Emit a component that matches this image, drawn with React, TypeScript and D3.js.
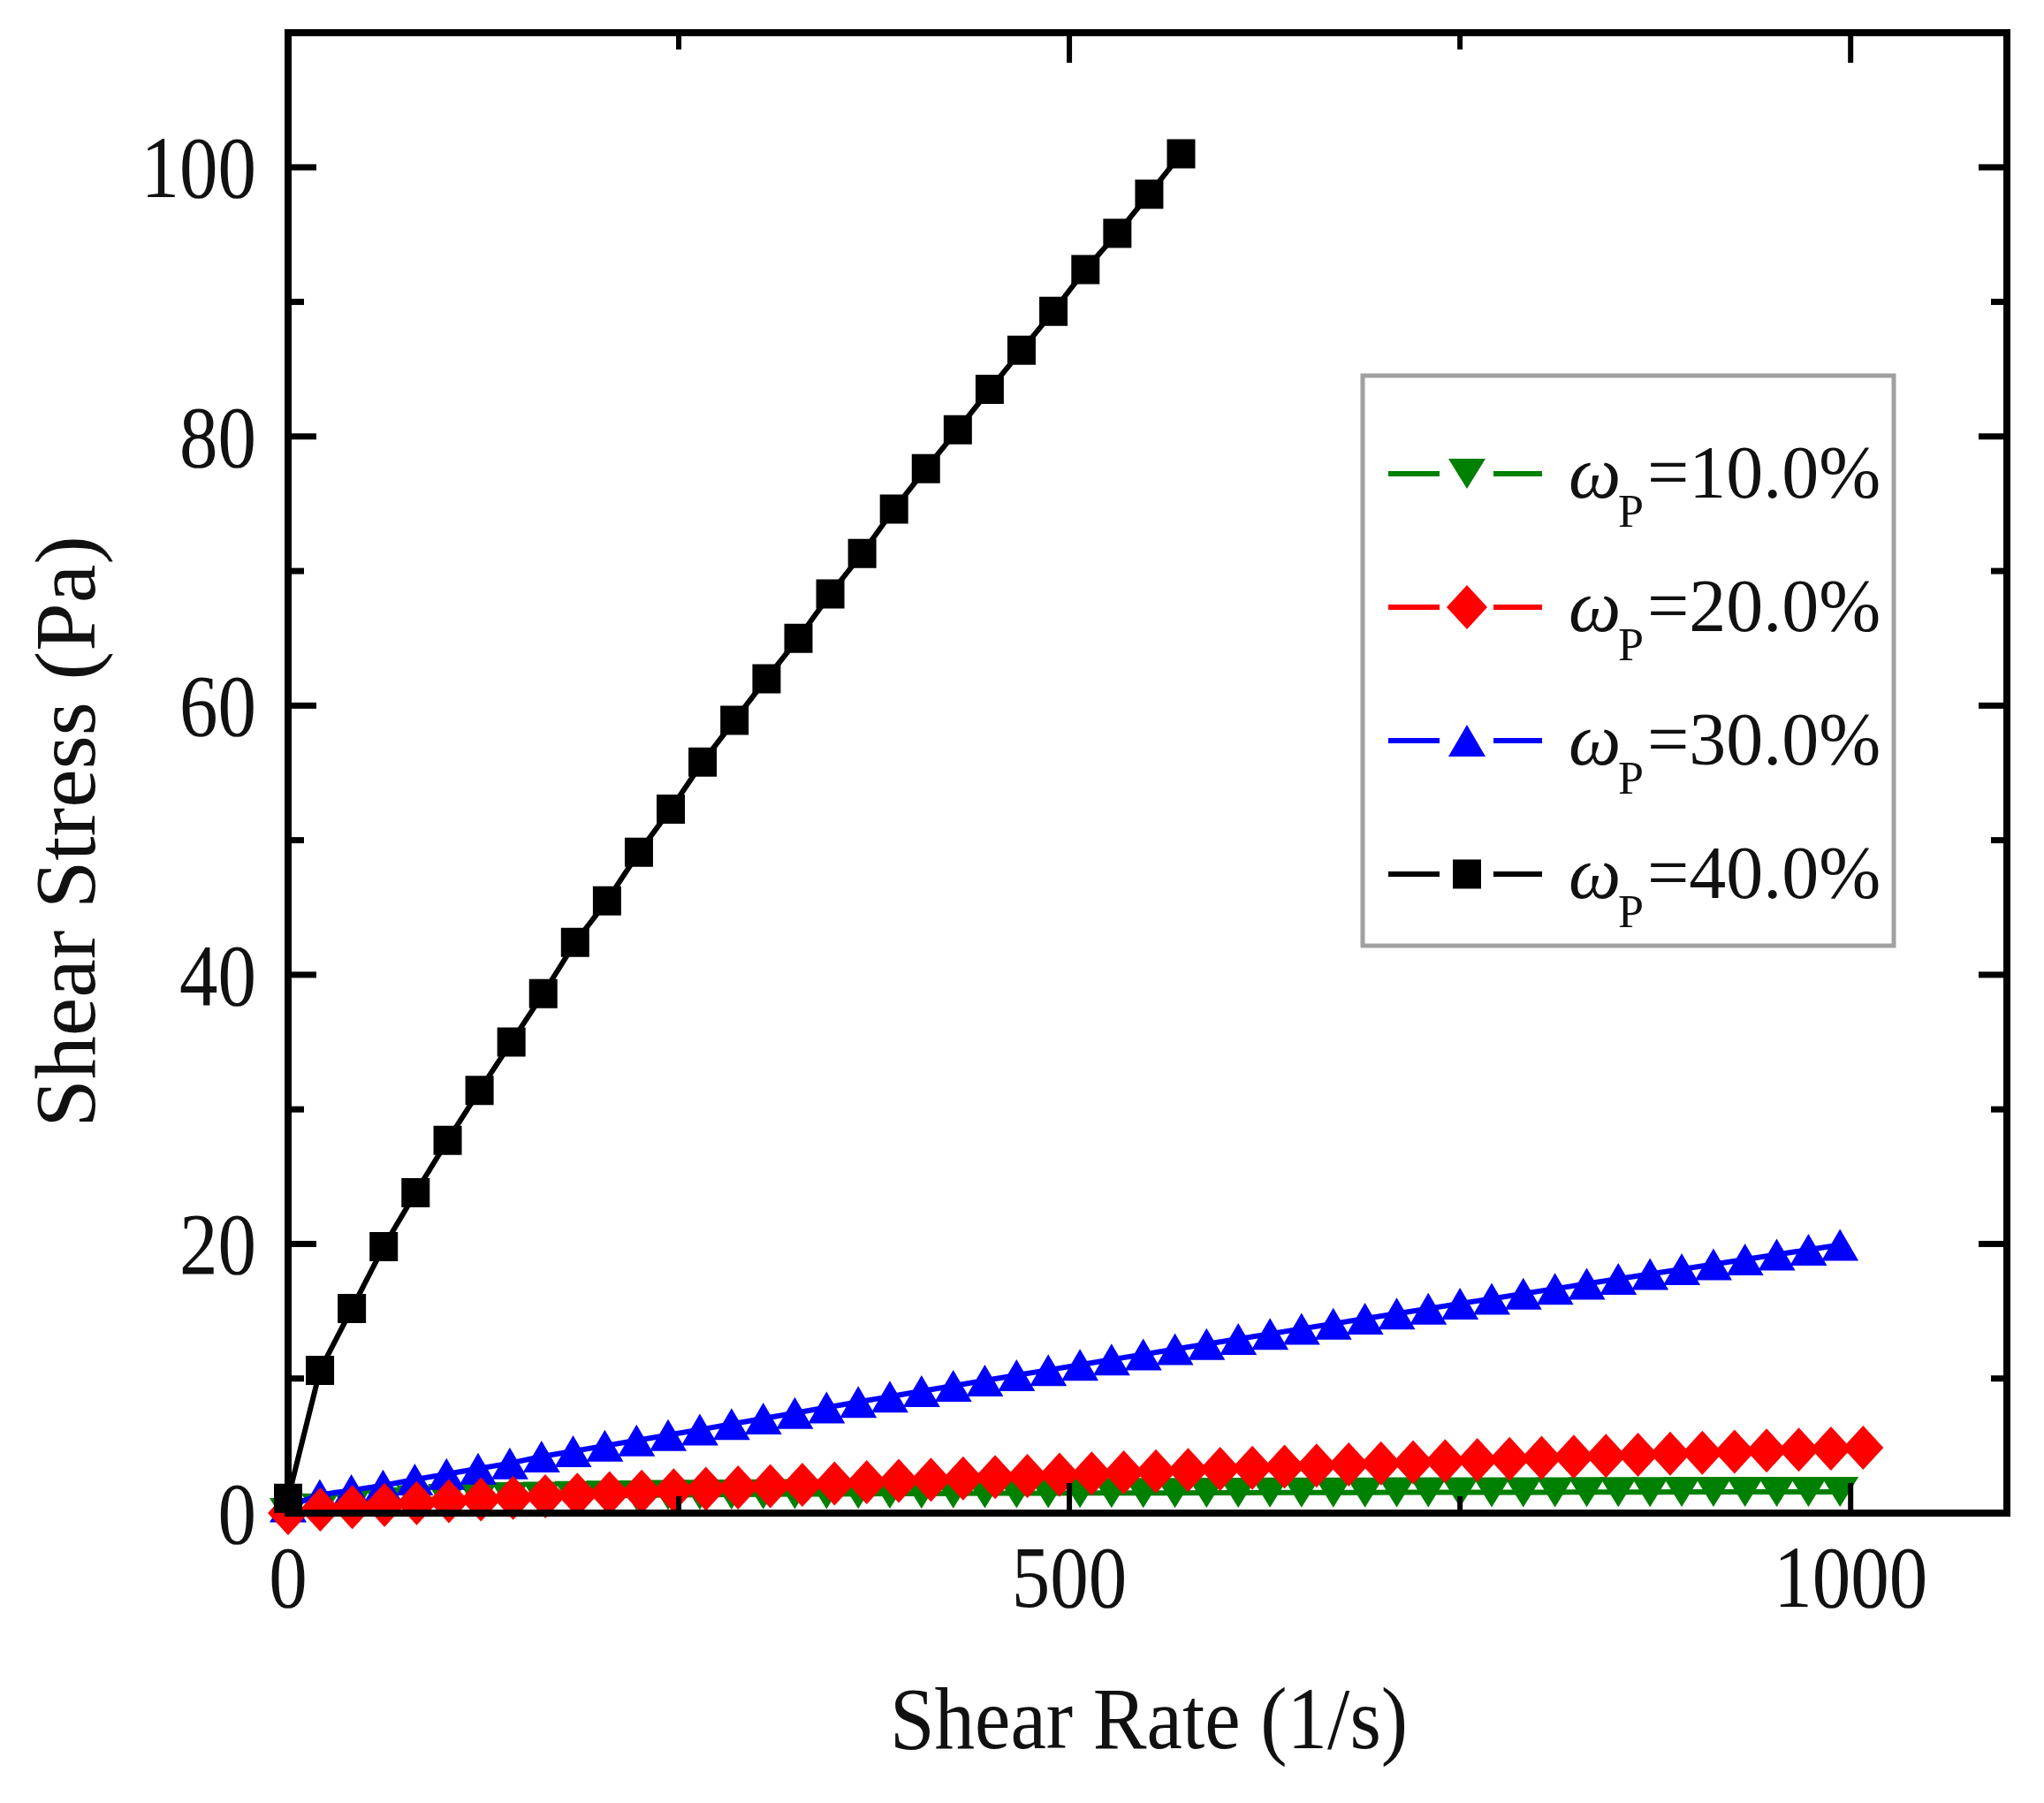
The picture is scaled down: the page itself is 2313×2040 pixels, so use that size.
import React from "react";
import * as d3 from "d3";

// ---------- data ----------
const xBlack = [0, 20.4, 40.8, 61.2, 81.6, 102.1, 122.5, 142.9, 163.3, 183.7, 204.1, 224.5, 244.9, 265.3, 285.7, 306.2, 326.6, 347.0, 367.4, 387.8, 408.2, 428.6, 449.0, 469.4, 489.8, 510.3, 530.7, 551.1, 571.5];
const yBlack = [1.1, 10.6, 15.2, 19.8, 23.8, 27.7, 31.4, 35.0, 38.6, 42.4, 45.5, 49.1, 52.3, 55.8, 58.9, 62.0, 65.0, 68.3, 71.3, 74.6, 77.6, 80.5, 83.5, 86.4, 89.3, 92.4, 95.1, 98.0, 101.0];

const xBlueGreen = [0, 20.3, 40.5, 60.8, 81.1, 101.4, 121.6, 141.9, 162.2, 182.4, 202.7, 223.0, 243.2, 263.5, 283.8, 304.1, 324.3, 344.6, 364.9, 385.1, 405.4, 425.7, 445.9, 466.2, 486.5, 506.8, 527.0, 547.3, 567.6, 587.8, 608.1, 628.4, 648.6, 668.9, 689.2, 709.5, 729.7, 750.0, 770.3, 790.5, 810.8, 831.1, 851.3, 871.6, 891.9, 912.2, 932.4, 952.7, 973.0, 993.2];
const yBlue = [0.5, 1.35, 1.7, 2.05, 2.5, 2.9, 3.3, 3.7, 4.2, 4.6, 5.0, 5.4, 5.8, 6.2, 6.62, 7.03, 7.44, 7.85, 8.26, 8.66, 9.06, 9.46, 9.85, 10.24, 10.63, 11.02, 11.41, 11.79, 12.18, 12.56, 12.94, 13.32, 13.7, 14.07, 14.45, 14.82, 15.19, 15.57, 15.93, 16.3, 16.67, 17.04, 17.4, 17.76, 18.13, 18.49, 18.85, 19.21, 19.57, 19.93];
const yGreen = [0, 0.35, 0.6, 0.8, 0.95, 1.05, 1.12, 1.18, 1.22, 1.26, 1.29, 1.32, 1.34, 1.36, 1.38, 1.4, 1.41, 1.42, 1.43, 1.44, 1.45, 1.46, 1.47, 1.47, 1.48, 1.49, 1.49, 1.5, 1.5, 1.51, 1.51, 1.52, 1.52, 1.53, 1.53, 1.54, 1.54, 1.54, 1.55, 1.55, 1.55, 1.56, 1.56, 1.56, 1.57, 1.57, 1.57, 1.58, 1.58, 1.58];

const xRed = [0, 20.6, 41.1, 61.7, 82.3, 102.9, 123.4, 144.0, 164.6, 185.1, 205.7, 226.3, 246.8, 267.4, 288.0, 308.6, 329.1, 349.7, 370.3, 390.8, 411.4, 432.0, 452.5, 473.1, 493.7, 514.3, 534.8, 555.4, 576.0, 596.5, 617.1, 637.7, 658.2, 678.8, 699.4, 720.0, 740.5, 761.1, 781.7, 802.2, 822.8, 843.4, 863.9, 884.5, 905.1, 925.7, 946.2, 966.8, 987.4, 1008.0];
const yRed = [0, 0.26, 0.44, 0.6, 0.74, 0.88, 1.01, 1.13, 1.25, 1.37, 1.48, 1.59, 1.69, 1.8, 1.9, 2.0, 2.1, 2.2, 2.3, 2.39, 2.48, 2.58, 2.67, 2.76, 2.85, 2.94, 3.02, 3.11, 3.2, 3.28, 3.37, 3.45, 3.53, 3.61, 3.7, 3.78, 3.86, 3.94, 4.02, 4.1, 4.18, 4.26, 4.33, 4.41, 4.49, 4.56, 4.64, 4.71, 4.79, 4.86];

const seriesLabels = ["=10.0%", "=20.0%", "=30.0%", "=40.0%"];
const seriesColors = ["#008000", "#ff0000", "#0000ff", "#000000"];

const xMajorTicks = [0, 500, 1000];
const xMinorTicks = [250, 750];
const yMajorTicks = [0, 20, 40, 60, 80, 100];
const yMinorTicks = [10, 30, 50, 70, 90];
const xTickLabels = ["0", "500", "1000"];
const yTickLabels = ["0", "20", "40", "60", "80", "100"];

// ---------- layout ----------
const W = 2313;
const H = 2040;
const L = 326, R = 2271, T = 37, B = 1712;
const FONT = "'Liberation Serif', 'Times New Roman', serif";

const x = d3.scaleLinear().domain([0, 1100]).range([L, R]);
const y = d3.scaleLinear().domain([0, 110]).range([B, T]);

type Mk = "square" | "up" | "down" | "diamond";

function markerPath(kind: Mk, cx: number, cy: number): string {
  if (kind === "square") {
    const w = 16, h = 16.5;
    return `M${cx - w},${cy - h}H${cx + w}V${cy + h}H${cx - w}Z`;
  }
  if (kind === "up") {
    const w = 21, h = 18;
    return `M${cx},${cy - h}L${cx + w},${cy + h}L${cx - w},${cy + h}Z`;
  }
  if (kind === "down") {
    const w = 21, h = 17;
    return `M${cx - w},${cy - h}L${cx + w},${cy - h}L${cx},${cy + h}Z`;
  }
  const w = 23, h = 25;
  return `M${cx},${cy - h}L${cx + w},${cy}L${cx},${cy + h}L${cx - w},${cy}Z`;
}

const line = d3
  .line<[number, number]>()
  .x((d) => x(d[0]))
  .y((d) => y(d[1]));

function Series({ xs, ys, color, kind }: { xs: number[]; ys: number[]; color: string; kind: Mk }) {
  const pts: [number, number][] = xs.map((v, i) => [v, ys[i]]);
  return (
    <g>
      <path d={line(pts) || ""} fill="none" stroke={color} strokeWidth={6} />
      {pts.map((p, i) => (
        <path key={i} d={markerPath(kind, x(p[0]), y(p[1]))} fill={color} />
      ))}
    </g>
  );
}

export default function App() {
  const legendKinds: Mk[] = ["down", "diamond", "up", "square"];
  const legendY0 = 536;
  const legendDy = 151;
  return (
    <div style={{ position: "absolute", left: 0, top: 0, background: "#fff" }}>
      <svg width={W} height={H} viewBox={`0 0 ${W} ${H}`} style={{ display: "block" }}>
        <rect x={0} y={0} width={W} height={H} fill="#fff" />

        {/* data: green, blue, red, black */}
        <Series xs={xBlueGreen} ys={yGreen} color={seriesColors[0]} kind="down" />
        <Series xs={xBlueGreen} ys={yBlue} color={seriesColors[2]} kind="up" />
        <Series xs={xRed} ys={yRed} color={seriesColors[1]} kind="diamond" />
        <Series xs={xBlack} ys={yBlack} color={seriesColors[3]} kind="square" />

        {/* frame */}
        <rect x={L} y={T} width={R - L} height={B - T} fill="none" stroke="#000" strokeWidth={8} />

        {/* y ticks (left & right, inward) */}
        {yMajorTicks.map((v) => (
          <g key={"ym" + v}>
            <line x1={L} x2={L + 32} y1={y(v)} y2={y(v)} stroke="#000" strokeWidth={7} />
            <line x1={R} x2={R - 32} y1={y(v)} y2={y(v)} stroke="#000" strokeWidth={7} />
          </g>
        ))}
        {yMinorTicks.map((v) => (
          <g key={"yn" + v}>
            <line x1={L} x2={L + 18} y1={y(v)} y2={y(v)} stroke="#000" strokeWidth={7} />
            <line x1={R} x2={R - 18} y1={y(v)} y2={y(v)} stroke="#000" strokeWidth={7} />
          </g>
        ))}
        {/* x ticks (top & bottom, inward) */}
        {xMajorTicks.map((v) => (
          <g key={"xm" + v}>
            <line x1={x(v)} x2={x(v)} y1={T} y2={T + 34} stroke="#000" strokeWidth={6} />
            <line x1={x(v)} x2={x(v)} y1={B} y2={B - 34} stroke="#000" strokeWidth={6} />
          </g>
        ))}
        {xMinorTicks.map((v) => (
          <g key={"xn" + v}>
            <line x1={x(v)} x2={x(v)} y1={T} y2={T + 19} stroke="#000" strokeWidth={6} />
            <line x1={x(v)} x2={x(v)} y1={B} y2={B - 19} stroke="#000" strokeWidth={6} />
          </g>
        ))}

        {/* tick labels */}
        {xMajorTicks.map((v, i) => (
          <text
            key={"xl" + v}
            transform={`translate(${x(v)},1818) scale(0.87,1)`}
            textAnchor="middle"
            fontFamily={FONT}
            fontSize={100}
            fill="#111"
          >
            {xTickLabels[i]}
          </text>
        ))}
        {yMajorTicks.map((v, i) => (
          <text
            key={"yl" + v}
            transform={`translate(290,${y(v) + 34}) scale(0.87,1)`}
            textAnchor="end"
            fontFamily={FONT}
            fontSize={100}
            fill="#111"
          >
            {yTickLabels[i]}
          </text>
        ))}

        {/* axis titles */}
        <text
          transform={`translate(1300,1978) scale(0.91,1)`}
          textAnchor="middle"
          fontFamily={FONT}
          fontSize={100}
          fill="#111"
        >
          Shear Rate (1/s)
        </text>
        <text
          transform={`translate(107,941) rotate(-90)`}
          textAnchor="middle"
          fontFamily={FONT}
          fontSize={98}
          fill="#111"
        >
          Shear Stress (Pa)
        </text>

        {/* legend */}
        <rect x={1542} y={425} width={601} height={645} fill="#fff" stroke="#a0a0a0" strokeWidth={5} />
        {seriesLabels.map((lab, i) => {
          const cy = legendY0 + i * legendDy;
          const c = seriesColors[i];
          return (
            <g key={"lg" + i}>
              <line x1={1571} x2={1629} y1={cy} y2={cy} stroke={c} strokeWidth={6} />
              <line x1={1690} x2={1745} y1={cy} y2={cy} stroke={c} strokeWidth={6} />
              <path d={markerPath(legendKinds[i], 1660, cy)} fill={c} />
              <text x={1775} y={cy + 27} fontFamily={FONT} fontSize={84} fontStyle="italic" fill="#111">
                ω
              </text>
              <text x={1831} y={cy + 60} fontFamily={FONT} fontSize={52} fill="#111">
                P
              </text>
              <text x={1864} y={cy + 27} fontFamily={FONT} fontSize={84} fill="#111">
                {lab}
              </text>
            </g>
          );
        })}
      </svg>
    </div>
  );
}
